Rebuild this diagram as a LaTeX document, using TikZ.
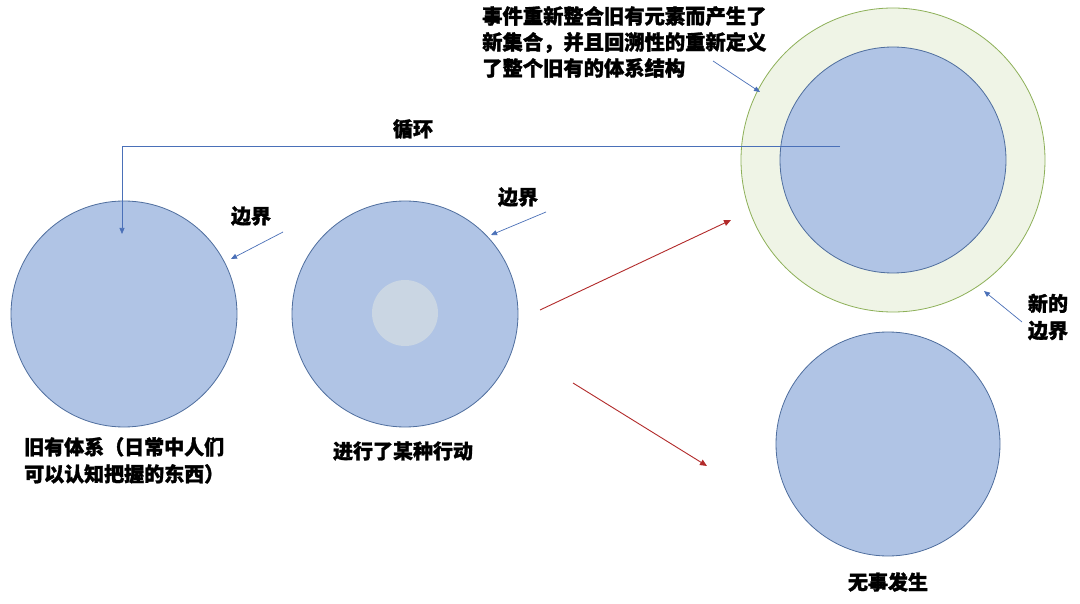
\documentclass[tikz,border=0pt]{standalone}
\usepackage{fontspec}
\newfontfamily\cjk{Noto Sans CJK SC}[BoldFeatures={FakeBold=1.5}]
\usetikzlibrary{arrows.meta}
\definecolor{cfill}{HTML}{B0C4E5}
\definecolor{cline}{HTML}{4F6E9E}
\definecolor{cinner}{HTML}{CAD6E3}
\definecolor{ringfill}{HTML}{EFF4E6}
\definecolor{ringline}{HTML}{8DB058}
\definecolor{bluearrow}{HTML}{4A70B8}
\definecolor{redarrow}{HTML}{B22A2A}
\begin{document}
\begin{tikzpicture}[x=1pt,y=-1pt,
  circ/.style={circle,draw=cline,fill=cfill,line width=0.8pt,inner sep=0pt},
  lbl/.style={font={\cjk\bfseries\fontsize{20}{27}\selectfont},inner sep=0pt,text=black},
  bluear/.style={draw=bluearrow,line width=0.7pt,-{Triangle[length=6pt,width=5pt]}},
  redar/.style={draw=redarrow,line width=0.9pt,-{Triangle[length=7pt,width=6pt]}}]
\useasboundingbox (0,0) rectangle (1080,604);
\fill[white] (0,0) rectangle (1080,604);
% circles
\node[circ,minimum size=226pt] (old) at (124,314) {};
\node[circ,minimum size=226pt] (act) at (405,314) {};
\node[circle,fill=cinner,minimum size=66pt,inner sep=0pt] (seed) at (405,313) {};
\node[circle,draw=ringline,fill=ringfill,line width=0.8pt,minimum size=304pt,inner sep=0pt] (ring) at (893,160) {};
\node[circ,minimum size=226pt] (new) at (893,160) {};
\node[circ,minimum size=224pt] (none) at (888,444) {};
% loop
\coordinate (ls) at (840,146);
\coordinate (lc) at (122,146);
\coordinate (le) at (122,234);
\draw[bluear] (ls) -- (lc) -- (le);
\node[lbl] (loop) at (413,129) {循环};
% boundary labels
\node[lbl] (b1) at (251,216) {边界};
\coordinate (b1s) at (283,232);
\coordinate (b1e) at (231,259);
\draw[bluear] (b1s) -- (b1e);
\node[lbl] (b2) at (518,197) {边界};
\coordinate (b2s) at (546,212);
\coordinate (b2e) at (491,235);
\draw[bluear] (b2s) -- (b2e);
% top text
\node[lbl,anchor=north west,align=left,font={\cjk\bfseries\fontsize{20.3}{26}\selectfont}] (top) at (482,6) {事件重新整合旧有元素而产生了\\新集合，并且回溯性的重新定义\\了整个旧有的体系结构};
\coordinate (ts) at (713,61);
\coordinate (te) at (760,92);
\draw[bluear] (ts) -- (te);
% new boundary
\node[lbl,align=center] (nb) at (1048,317) {新的\\边界};
\coordinate (ns) at (1022,322);
\coordinate (ne) at (984,291);
\draw[bluear] (ns) -- (ne);
% red arrows
\coordinate (r1s) at (540,310);
\coordinate (r1e) at (731,220);
\draw[redar] (r1s) -- (r1e);
\coordinate (r2s) at (573,383);
\coordinate (r2e) at (707,466);
\draw[redar] (r2s) -- (r2e);
% captions
\node[lbl,anchor=north west,align=left] (c1) at (24,437) {旧有体系（日常中人们\\可以认知把握的东西）};
\node[lbl] (c2) at (403,451) {进行了某种行动};
\node[lbl] (c3) at (888,582) {无事发生};
\end{tikzpicture}
\end{document}
